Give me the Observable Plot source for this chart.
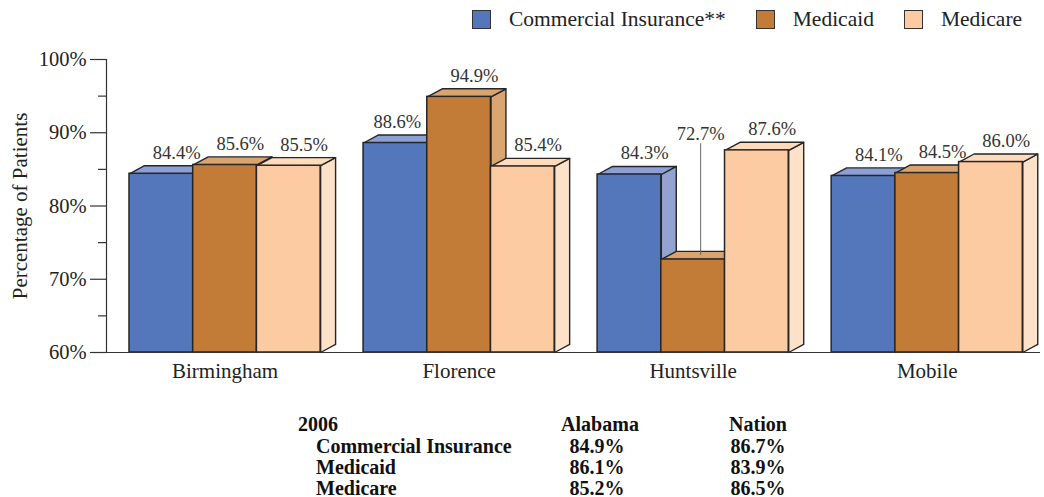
<!DOCTYPE html>
<html>
<head>
<meta charset="utf-8">
<script src="https://cdn.jsdelivr.net/npm/d3@7"></script>
<script src="https://cdn.jsdelivr.net/npm/@observablehq/plot@0.6"></script>
<style>
  html, body { margin: 0; padding: 0; background: #fff; }
  body { width: 1044px; height: 497px; position: relative; overflow: hidden; font-family: "Liberation Serif", "Times New Roman", serif; color: #222; }
  #chart { position: absolute; left: 0; top: 0; }
  #legend { position: absolute; left: 472px; top: 9px; display: flex; align-items: center; font-size: 21.5px; line-height: 1; }
  #legend .item { display: flex; align-items: center; margin-right: 30px; }
  #legend .item:last-child { margin-right: 0; }
  #legend .sw { width: 19px; height: 19px; border: 1px solid #333; margin-right: 18px; box-sizing: border-box; }
  #table { position: absolute; left: 0; top: 0; font-weight: bold; font-size: 20px; color: #111; }
  #table div { position: absolute; white-space: nowrap; line-height: 1; }
</style>
</head>
<body>
<div id="chart"></div>
<div id="legend"></div>
<div id="table"></div>
<script>
// ---- data ----
const cities = ["Birmingham", "Florence", "Huntsville", "Mobile"];
const seriesNames = ["Commercial Insurance**", "Medicaid", "Medicare"];
const commercial = [84.4, 88.6, 84.3, 84.1];
const medicaid = [85.6, 94.9, 72.7, 84.5];
const medicare = [85.5, 85.4, 87.6, 86.0];
const yTicks = [60, 70, 80, 90, 100];
const yMinorTicks = [65, 75, 85, 95];
const tableTitle = "2006";
const tableCols = ["Alabama", "Nation"];
const tableRows = ["Commercial Insurance", "Medicaid", "Medicare"];
const alabama = ["84.9%", "86.1%", "85.2%"];
const nation = ["86.7%", "83.9%", "86.5%"];

// ---- styles ----
const frontColors = ["#5476ba", "#c27c38", "#fccba1"];
const topColors = ["#8d9fd3", "#d9a46e", "#fddbbb"];
const sideColors = ["#94a2d2", "#d9a672", "#fde1c8"];
const outline = "#262626";
const G = 3.674;      // group step in bar widths
const dX = 0.235;     // 3D depth (x, bar widths)
const dY = 1.1;       // 3D depth (y, percent units)
const callout = {city: "Huntsville", series: "Medicaid", y: 86.9};

const values = [commercial, medicaid, medicare];
const bars = [];
cities.forEach((c, i) => {
  seriesNames.forEach((s, j) => {
    const x1 = i * G + j;
    bars.push({city: c, series: s, i, j, v: values[j][i], x1, x2: x1 + 1, id: c + "|" + s});
  });
});
const tops = [], sides = [];
for (const b of bars) {
  [[b.x1, b.v], [b.x2, b.v], [b.x2 + dX, b.v + dY], [b.x1 + dX, b.v + dY], [b.x1, b.v]]
    .forEach(([x, y]) => tops.push({id: b.id, x, y, fill: topColors[b.j]}));
  [[b.x2, b.v], [b.x2 + dX, b.v + dY], [b.x2 + dX, 60 + dY], [b.x2, 60], [b.x2, b.v]]
    .forEach(([x, y]) => sides.push({id: b.id, x, y, fill: sideColors[b.j]}));
}
const isCallout = b => b.city === callout.city && b.series === callout.series;
// labels sit right-shifted over the bar, unless the next bar is much taller
const nextTaller = b => b.j < 2 && values[b.j + 1][b.i] - b.v > 3;
const labels = bars.map(b => ({...b, ly: isCallout(b) ? callout.y : b.v, lx: b.x1 + 0.5 + (isCallout(b) ? dX / 2 : nextTaller(b) ? 0.03 : 0.24), text: b.v.toFixed(1) + "%"}));
const calloutBars = bars.filter(isCallout);

const xMin = -0.361, xMax = 14.30;
const font = "Liberation Serif, Times New Roman, serif";

const plot = Plot.plot({
  width: 1044,
  height: 400,
  marginLeft: 106,
  marginRight: 4,
  marginTop: 59,
  marginBottom: 48,
  style: {fontFamily: font, background: "transparent", color: "#222"},
  x: {type: "linear", domain: [xMin, xMax], axis: null},
  y: {type: "linear", domain: [60, 100], axis: null},
  color: {type: "identity"},
  marks: [
    Plot.axisY({ticks: yTicks, tickSize: 16, tickPadding: 4, tickFormat: d => d + "%", fontSize: 20.5, stroke: "#333", strokeWidth: 1.2, label: null}),
    Plot.axisY({ticks: yMinorTicks, tickSize: 8, tickFormat: () => "", stroke: "#333", strokeWidth: 1.2, label: null}),
    Plot.ruleX([xMin], {y1: 60, y2: 100, stroke: "#333", strokeWidth: 1.2}),
    Plot.text(["Percentage of Patients"], {frameAnchor: "left", textAnchor: "middle", rotate: -90, dx: -86, fontSize: 21, fill: "#222"}),
    Plot.line(sides, {x: "x", y: "y", z: "id", fill: "fill", stroke: outline, strokeWidth: 1.4, strokeLinejoin: "round"}),
    Plot.line(tops, {x: "x", y: "y", z: "id", fill: "fill", stroke: outline, strokeWidth: 1.4, strokeLinejoin: "round"}),
    Plot.rect(bars, {x1: "x1", x2: "x2", y1: 60, y2: "v", fill: b => frontColors[b.j], stroke: outline, strokeWidth: 1.5}),
    Plot.ruleY([60], {stroke: "#333", strokeWidth: 1.2}),
    Plot.ruleX(calloutBars, {x: b => b.x1 + 0.5 + dX / 2, y1: b => b.v + dY / 2, y2: callout.y + 1.6, stroke: "#666", strokeWidth: 1}),
    Plot.text(labels, {x: "lx", y: "ly", text: "text", dy: -21, fontSize: 18.5, fill: "#333"}),
    Plot.text(cities, {x: (d, i) => i * G + 1.5, y: () => 60, dy: 19, fontSize: 21, fill: "#222"})
  ]
});
document.getElementById("chart").appendChild(plot);

// legend
const legend = document.getElementById("legend");
seriesNames.forEach((s, j) => {
  const item = document.createElement("div");
  item.className = "item";
  const sw = document.createElement("div");
  sw.className = "sw";
  sw.style.background = frontColors[j];
  const t = document.createElement("span");
  t.textContent = s;
  item.appendChild(sw);
  item.appendChild(t);
  legend.appendChild(item);
});

// table
const table = document.getElementById("table");
function cell(text, x, y, anchor) {
  const d = document.createElement("div");
  d.textContent = text;
  d.style.top = (y - 10) + "px";
  if (anchor === "middle") { d.style.left = x + "px"; d.style.transform = "translateX(-50%)"; }
  else d.style.left = x + "px";
  table.appendChild(d);
}
const rowY = [424, 445.5, 467, 488];
const colX = [600, 758];
cell(tableTitle, 298, rowY[0], "start");
tableCols.forEach((c, k) => cell(c, colX[k], rowY[0], "middle"));
tableRows.forEach((r, i) => {
  cell(r, 316, rowY[i + 1], "start");
  cell(alabama[i], colX[0] - 3, rowY[i + 1], "middle");
  cell(nation[i], colX[1], rowY[i + 1], "middle");
});
</script>
</body>
</html>
